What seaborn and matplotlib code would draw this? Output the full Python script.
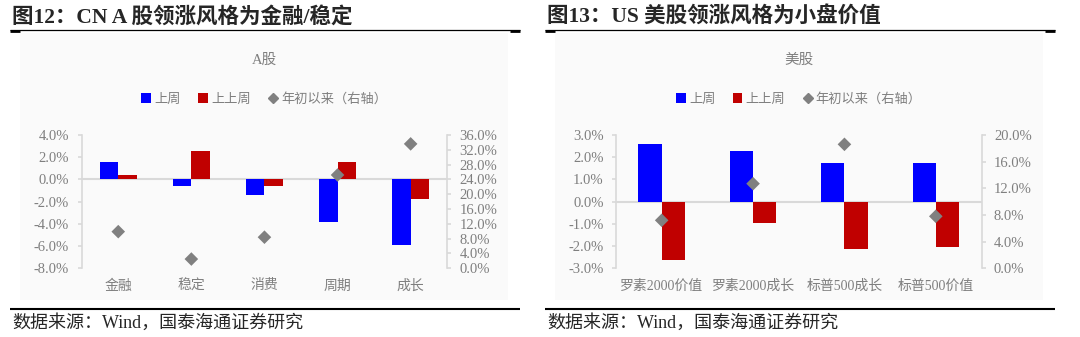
import numpy as np
import pandas as pd
import matplotlib
matplotlib.use("Agg")
import matplotlib.pyplot as plt
from matplotlib.patches import Patch, Rectangle
from matplotlib.lines import Line2D
import seaborn as sns

# ---------------- data ----------------
cn_cats = ["金融", "稳定", "消费", "周期", "成长"]
cn_last_week = [1.6, -0.6, -1.4, -3.8, -5.9]
cn_prev_week = [0.4, 2.6, -0.6, 1.6, -1.8]
cn_ytd = [9.9, 2.5, 8.4, 25.2, 33.6]
cn_left_ticks = [-8, -6, -4, -2, 0, 2, 4]
cn_right_ticks = [0, 4, 8, 12, 16, 20, 24, 28, 32, 36]

us_cats = ["罗素2000价值", "罗素2000成长", "标普500成长", "标普500价值"]
us_last_week = [2.6, 2.3, 1.75, 1.72]
us_prev_week = [-2.63, -0.98, -2.11, -2.05]
us_ytd = [7.2, 12.7, 18.6, 7.8]
us_left_ticks = [-3, -2, -1, 0, 1, 2, 3]
us_right_ticks = [0, 4, 8, 12, 16, 20]

series_names = ["上周", "上上周", "年初以来（右轴）"]
fig_titles = ["图12：CN A 股领涨风格为金融/稳定", "图13：US 美股领涨风格为小盘价值"]
chart_titles = ["A股", "美股"]
source_text = "数据来源：Wind，国泰海通证券研究"

# ---------------- style ----------------
sns.set_style("white")
plt.rcParams["font.family"] = ["Liberation Serif", "Noto Sans CJK SC"]
plt.rcParams["axes.unicode_minus"] = False

BLUE = "#0000FF"
RED = "#C00000"
GRAY = "#808080"
LINE = "#d9d9d9"
TXT = "#7f7f7f"

W, H = 1080, 337
fig = plt.figure(figsize=(W / 100, H / 100), dpi=100)


def px(x, y):
    return x / W, 1 - y / H


def hline(x0, x1, y, lw, zorder=5):
    fig.add_artist(Line2D([x0 / W, x1 / W], [1 - y / H, 1 - y / H], color="black",
                          lw=lw, transform=fig.transFigure, zorder=zorder,
                          solid_capstyle="butt"))


def panel(x0, x1, ax_left, cats, lw_vals, pw_vals, ytd, lticks, rticks, ftitle, ctitle):
    # header & footer
    fig.text(*px(x0 + 2, 17), ftitle, fontsize=15.5, fontweight="bold", va="center", ha="left")
    hline(x0, x1, 30, 0.9)
    hline(x0, x0 + 10, 30.6, 2.0)
    hline(x1 - 10, x1, 30.6, 2.0)
    hline(x0, x1, 309, 1.5)
    fig.text(*px(x0 + 2, 323), source_text, fontsize=13, va="center", ha="left")
    # background
    fig.add_artist(Rectangle(px(x0 + 10, 300), (x1 - x0 - 22) / W, 267 / H,
                             transform=fig.transFigure, facecolor="#fafafa",
                             edgecolor="none", zorder=-5))

    ax = fig.add_axes([ax_left / W, (H - 268.3) / H, 365.5 / W, 133.3 / H])
    ax.patch.set_alpha(0)
    df = pd.DataFrame({
        "cat": cats * 2,
        "series": [series_names[0]] * len(cats) + [series_names[1]] * len(cats),
        "val": list(lw_vals) + list(pw_vals),
    })
    sns.barplot(data=df, x="cat", y="val", hue="series", order=cats,
                hue_order=series_names[:2], palette=[BLUE, RED], saturation=1,
                width=0.51, errorbar=None, linewidth=0, legend=False, ax=ax, zorder=3)
    ax.axhline(0, color=LINE, lw=1.5, zorder=1)
    ax.set_ylim(lticks[0], lticks[-1])
    ax.set_yticks(lticks)
    ax.set_yticklabels([f"{t:.1f}%" for t in lticks])
    ax.set_xlabel("")
    ax.set_ylabel("")
    for s in ["top", "bottom", "right"]:
        ax.spines[s].set_visible(False)
    ax.spines["left"].set_color(LINE)
    ax.spines["left"].set_linewidth(1.2)
    ax.tick_params(axis="y", left=True, length=3, width=1.2, color=LINE,
                   labelcolor=TXT, labelsize=10.5, pad=6)
    ax.tick_params(axis="x", length=0, labelcolor=TXT, labelsize=10, pad=8)

    ax2 = ax.twinx()
    ax2.patch.set_alpha(0)
    sns.scatterplot(x=np.arange(len(cats)), y=ytd, marker="D", s=48, color=GRAY,
                    edgecolor="none", ax=ax2, zorder=5, legend=False)
    ax2.set_ylim(rticks[0], rticks[-1])
    ax2.set_yticks(rticks)
    ax2.set_yticklabels([f"{t:.1f}%" for t in rticks])
    ax2.set_ylabel("")
    for s in ["top", "bottom", "left"]:
        ax2.spines[s].set_visible(False)
    ax2.spines["right"].set_color(LINE)
    ax2.spines["right"].set_linewidth(1.2)
    ax2.tick_params(axis="y", right=True, length=3, width=1.2, color=LINE,
                    labelcolor=TXT, labelsize=10.5, pad=6)
    ax.set_xlim(-0.5, len(cats) - 0.5)

    # chart title
    cx = ax_left + 365.5 / 2
    fig.text(*px(cx, 60), ctitle, fontsize=10.5, color=TXT, ha="center", va="center")

    handles = [Patch(facecolor=BLUE, edgecolor="none", label=series_names[0]),
               Patch(facecolor=RED, edgecolor="none", label=series_names[1]),
               Line2D([], [], marker="D", color=GRAY, linestyle="none",
                      markersize=5, label=series_names[2])]
    leg = ax.legend(handles=handles, loc="center", bbox_to_anchor=(0.5, 1.27), ncol=3,
                    frameon=False, fontsize=9.5, handlelength=0.75, handleheight=0.75,
                    handletextpad=0.25, columnspacing=1.3)
    for t in leg.get_texts():
        t.set_color(TXT)
    return ax, ax2


panel(10, 520, 81.7, cn_cats, cn_last_week, cn_prev_week, cn_ytd,
      cn_left_ticks, cn_right_ticks, fig_titles[0], chart_titles[0])
panel(545, 1055, 616, us_cats, us_last_week, us_prev_week, us_ytd,
      us_left_ticks, us_right_ticks, fig_titles[1], chart_titles[1])

fig.savefig("out.png", dpi=100, facecolor="white")
